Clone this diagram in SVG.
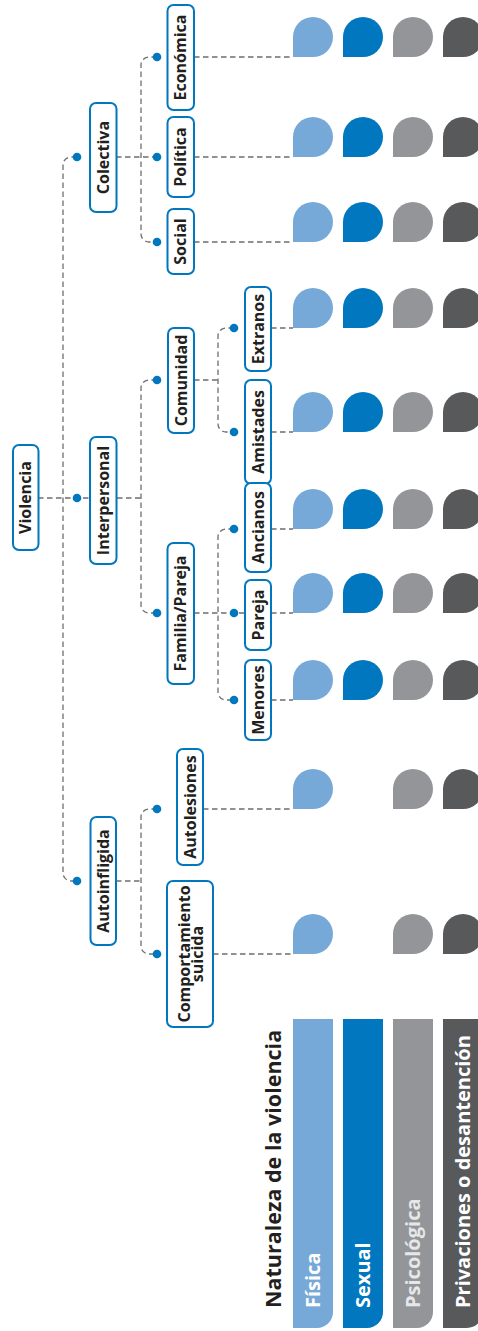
<svg xmlns="http://www.w3.org/2000/svg" width="478" height="1331" viewBox="0 0 478 1331">
<style>
.box{fill:#fff;stroke:#0077be;stroke-width:2}
.lbl{font-family:"Open Sans","Noto Sans",sans-serif;font-weight:700;font-size:16px;fill:#231f20;text-anchor:middle}
.con{fill:none;stroke:#6d6e71;stroke-width:1.3;stroke-dasharray:5.5,3.5}
.dot{fill:#0077be}
.c1{fill:#76a9d8}.c2{fill:#0077be}.c3{fill:#939598}.c4{fill:#58595b}
.leg{font-family:"Open Sans","Noto Sans",sans-serif;font-weight:700;font-size:20px;fill:#fff}
.ttl{font-family:"Open Sans","Noto Sans",sans-serif;font-weight:700;font-size:21.5px;fill:#231f20}
</style>
<defs>
<path id="drop" d="M0,20 V0 A20,20 0 1 1 20,20 Z"/>
</defs>
<rect width="478" height="1331" fill="#fff"/>
<g id="connectors">
<path class="con" d="M77,157 H71 A8,8 0 0 0 63,165 V873 A8,8 0 0 0 71,881 H77"/>
<path class="con" d="M38,498 H90"/>
<path class="con" d="M116,157 H157"/>
<path class="con" d="M157,57 H149 A8,8 0 0 0 141,65 V234 A8,8 0 0 0 149,242 H157"/>
<path class="con" d="M194,57 H293 M194,157 H293 M194,242 H293"/>
<path class="con" d="M117,498 H141"/>
<path class="con" d="M157,380 H149 A8,8 0 0 0 141,388 V605 A8,8 0 0 0 149,613 H157"/>
<path class="con" d="M194,380 H218"/>
<path class="con" d="M234,328 H226 A8,8 0 0 0 218,336 V424 A8,8 0 0 0 226,432 H234"/>
<path class="con" d="M271,328 H293 M271,432 H293"/>
<path class="con" d="M194,613 H245"/>
<path class="con" d="M234,529 H226 A8,8 0 0 0 218,537 V692 A8,8 0 0 0 226,700 H234"/>
<path class="con" d="M271,529 H293 M271,613 H293 M271,700 H293"/>
<path class="con" d="M116,881 H141"/>
<path class="con" d="M157,809 H149 A8,8 0 0 0 141,817 V946 A8,8 0 0 0 149,954 H157"/>
<path class="con" d="M203,809 H293 M213,954 H293"/>
<circle class="dot" cx="77" cy="157" r="4.3"/>
<circle class="dot" cx="77" cy="498" r="4.3"/>
<circle class="dot" cx="77" cy="881" r="4.3"/>
<circle class="dot" cx="157" cy="57" r="4.3"/>
<circle class="dot" cx="157" cy="157" r="4.3"/>
<circle class="dot" cx="157" cy="242" r="4.3"/>
<circle class="dot" cx="157" cy="380" r="4.3"/>
<circle class="dot" cx="157" cy="613" r="4.3"/>
<circle class="dot" cx="234" cy="328" r="4.3"/>
<circle class="dot" cx="234" cy="432" r="4.3"/>
<circle class="dot" cx="234" cy="529" r="4.3"/>
<circle class="dot" cx="234" cy="613" r="4.3"/>
<circle class="dot" cx="234" cy="700" r="4.3"/>
<circle class="dot" cx="157" cy="809" r="4.3"/>
<circle class="dot" cx="157" cy="954" r="4.3"/>
</g>
<g id="n-violencia"><rect class="box" x="13" y="445" width="25.5" height="105" rx="6"/><text class="lbl" transform="translate(25.75,497.5) rotate(-90)" y="5.7">Violencia</text></g>
<g id="n-colectiva"><rect class="box" x="90" y="103" width="26.5" height="109" rx="6"/><text class="lbl" transform="translate(103.25,157.5) rotate(-90)" y="5.7">Colectiva</text></g>
<g id="n-interpersonal"><rect class="box" x="90" y="437" width="26.5" height="127" rx="6"/><text class="lbl" transform="translate(103.25,500.5) rotate(-90)" y="5.7">Interpersonal</text></g>
<g id="n-autoinfligida"><rect class="box" x="90.5" y="817" width="25.5" height="128" rx="6"/><text class="lbl" transform="translate(103.25,881) rotate(-90)" y="5.7">Autoinfligida</text></g>
<g id="n-economica"><rect class="box" x="167.5" y="5" width="26.5" height="105" rx="6"/><text class="lbl" transform="translate(180.75,57.5) rotate(-90)" y="5.7">Económica</text></g>
<g id="n-politica"><rect class="box" x="167.5" y="117" width="26.5" height="80" rx="6"/><text class="lbl" transform="translate(180.75,157) rotate(-90)" y="5.7">Política</text></g>
<g id="n-social"><rect class="box" x="167.5" y="209" width="26.5" height="65" rx="6"/><text class="lbl" transform="translate(180.75,241.5) rotate(-90)" y="5.7">Social</text></g>
<g id="n-comunidad"><rect class="box" x="168" y="328" width="26" height="105" rx="6"/><text class="lbl" transform="translate(181,380.5) rotate(-90)" y="5.7">Comunidad</text></g>
<g id="n-familia"><rect class="box" x="167.5" y="543" width="26.5" height="141" rx="6"/><text class="lbl" transform="translate(180.75,613.5) rotate(-90)" y="5.7">Familia/Pareja</text></g>
<g id="n-extranos"><rect class="box" x="245" y="287" width="26" height="84" rx="6"/><text class="lbl" transform="translate(258,329) rotate(-90)" y="5.7">Extranos</text></g>
<g id="n-amistades"><rect class="box" x="245" y="380" width="26" height="104" rx="6"/><text class="lbl" transform="translate(258,432) rotate(-90)" y="5.7">Amistades</text></g>
<g id="n-ancianos"><rect class="box" x="245" y="483" width="26" height="89" rx="6"/><text class="lbl" transform="translate(258,527.5) rotate(-90)" y="5.7">Ancianos</text></g>
<g id="n-pareja"><rect class="box" x="245" y="580" width="26" height="70" rx="6"/><text class="lbl" transform="translate(258,615) rotate(-90)" y="5.7">Pareja</text></g>
<g id="n-menores"><rect class="box" x="245" y="660" width="26" height="80" rx="6"/><text class="lbl" transform="translate(258,700) rotate(-90)" y="5.7">Menores</text></g>
<g id="n-autolesiones"><rect class="box" x="177" y="749" width="26" height="116" rx="6"/><text class="lbl" transform="translate(190,807) rotate(-90)" y="5.7">Autolesiones</text></g>
<g id="n-suicida"><rect class="box" x="167" y="881" width="46" height="146" rx="6"/><text class="lbl" transform="translate(190,954) rotate(-90)"><tspan x="0" y="0">Comportamiento</tspan><tspan x="0" y="13">suicida</tspan></text></g>
<g id="drops">
<use href="#drop" class="c1" x="293" y="37"/><use href="#drop" class="c2" x="343" y="37"/><use href="#drop" class="c3" x="393" y="37"/><use href="#drop" class="c4" x="443" y="37"/>
<use href="#drop" class="c1" x="293" y="137"/><use href="#drop" class="c2" x="343" y="137"/><use href="#drop" class="c3" x="393" y="137"/><use href="#drop" class="c4" x="443" y="137"/>
<use href="#drop" class="c1" x="293" y="222"/><use href="#drop" class="c2" x="343" y="222"/><use href="#drop" class="c3" x="393" y="222"/><use href="#drop" class="c4" x="443" y="222"/>
<use href="#drop" class="c1" x="293" y="308"/><use href="#drop" class="c2" x="343" y="308"/><use href="#drop" class="c3" x="393" y="308"/><use href="#drop" class="c4" x="443" y="308"/>
<use href="#drop" class="c1" x="293" y="412"/><use href="#drop" class="c2" x="343" y="412"/><use href="#drop" class="c3" x="393" y="412"/><use href="#drop" class="c4" x="443" y="412"/>
<use href="#drop" class="c1" x="293" y="509"/><use href="#drop" class="c2" x="343" y="509"/><use href="#drop" class="c3" x="393" y="509"/><use href="#drop" class="c4" x="443" y="509"/>
<use href="#drop" class="c1" x="293" y="593"/><use href="#drop" class="c2" x="343" y="593"/><use href="#drop" class="c3" x="393" y="593"/><use href="#drop" class="c4" x="443" y="593"/>
<use href="#drop" class="c1" x="293" y="680"/><use href="#drop" class="c2" x="343" y="680"/><use href="#drop" class="c3" x="393" y="680"/><use href="#drop" class="c4" x="443" y="680"/>
<use href="#drop" class="c1" x="293" y="789"/><use href="#drop" class="c3" x="393" y="789"/><use href="#drop" class="c4" x="443" y="789"/>
<use href="#drop" class="c1" x="293" y="934"/><use href="#drop" class="c3" x="393" y="934"/><use href="#drop" class="c4" x="443" y="934"/>
</g>
<g id="legend">
<text class="ttl" transform="translate(281,1308) rotate(-90)">Naturaleza de la violencia</text>
<path class="c1" d="M293,1019 H333 V1312 A16,16 0 0 1 317,1328 H293 Z"/>
<path class="c2" d="M343,1019 H383 V1312 A16,16 0 0 1 367,1328 H343 Z"/>
<path class="c3" d="M393,1019 H433 V1312 A16,16 0 0 1 417,1328 H393 Z"/>
<path class="c4" d="M443,1019 H483 V1312 A16,16 0 0 1 467,1328 H443 Z"/>
<text class="leg" transform="translate(320,1308) rotate(-90)">Física</text>
<text class="leg" transform="translate(370,1308) rotate(-90)">Sexual</text>
<text class="leg" transform="translate(420,1308) rotate(-90)" style="fill:#e6e7e8">Psicológica</text>
<text class="leg" transform="translate(470,1308) rotate(-90)">Privaciones o desantención</text>
</g>
</svg>
